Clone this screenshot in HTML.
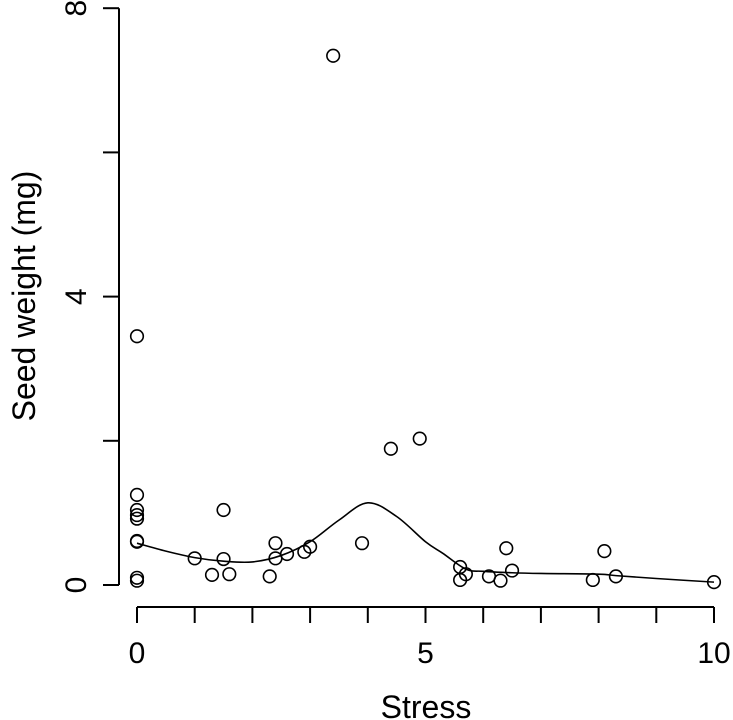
<!DOCTYPE html>
<html><head><meta charset="utf-8"><style>
body{margin:0;background:#fff}
svg{display:block;font-family:"Liberation Sans",Arial,sans-serif}
</style></head><body>
<svg id="chart" width="733" height="720" viewBox="0 0 733 720">
<g id="axes"></g>
<g id="marks"></g>
<text transform="translate(35,296) rotate(-90)" text-anchor="middle" font-size="32">Seed weight (mg)</text>
<text x="426" y="718" text-anchor="middle" font-size="32">Stress</text>
</svg>
<script>
const stressX=[0,0,0,0,0,0,0,0,0,1.5,1.0,1.5,1.3,1.6,2.4,2.4,2.3,2.6,2.9,3.0,3.9,3.4,4.4,4.9,5.6,5.6,5.7,6.1,6.3,6.4,6.5,7.9,8.1,8.3,10];
const seedW=[3.45,1.25,1.04,0.97,0.92,0.61,0.6,0.1,0.06,1.04,0.37,0.36,0.14,0.15,0.58,0.37,0.12,0.43,0.46,0.53,0.58,7.34,1.89,2.03,0.25,0.07,0.15,0.12,0.06,0.51,0.2,0.07,0.47,0.12,0.04];
const curveX=[0,0.5,1,1.5,2,2.5,3,3.5,4,4.5,5,5.3,5.7,6,6.5,7,8,8.3,9,10];
const curveY=[0.58,0.47,0.38,0.33,0.32,0.41,0.6,0.9,1.14,0.95,0.6,0.44,0.22,0.19,0.17,0.16,0.15,0.13,0.09,0.04];
const xTicks=[0,1,2,3,4,5,6,7,8,9,10];
const xLabels=[0,5,10];
const yTicks=[0,2,4,6,8];
const yLabels=[0,4,8];
const X=v=>137+57.7*v, Y=v=>585-72.1*v;
const NS="http://www.w3.org/2000/svg";
const axes=document.getElementById('axes'), marks=document.getElementById('marks');
function mk(t,a,p){const e=document.createElementNS(NS,t);for(const k in a)e.setAttribute(k,a[k]);p.appendChild(e);return e;}
let l=mk('line',{x1:X(0),x2:X(10),y1:607,y2:607,stroke:'#000','stroke-width':2},axes);


xTicks.forEach(v=>{const t=mk('line',{x1:X(v),x2:X(v),y1:607,y2:623,stroke:'#000','stroke-width':2},axes);

});
xLabels.forEach(v=>{const t=mk('text',{x:X(v),y:663,'text-anchor':'middle','font-size':30},axes);t.textContent=v;

});
l=mk('line',{x1:119,x2:119,y1:Y(0),y2:Y(8),stroke:'#000','stroke-width':2},axes);


yTicks.forEach(v=>{const t=mk('line',{x1:103,x2:119,y1:Y(v),y2:Y(v),stroke:'#000','stroke-width':2},axes);

});
yLabels.forEach(v=>{const t=mk('text',{transform:`translate(86,${Y(v)}) rotate(-90)`,'text-anchor':'middle','font-size':30},axes);t.textContent=v;

});
stressX.forEach((v,i)=>{const c=mk('circle',{cx:X(v),cy:Y(seedW[i]),r:6.3,fill:'none',stroke:'#000','stroke-width':1.6},marks);

});
const P=curveX.map((v,i)=>[X(v),Y(curveY[i])]);
let d=`M${P[0][0]},${P[0][1]}`;
for(let i=0;i<P.length-1;i++){const p0=P[Math.max(i-1,0)],p1=P[i],p2=P[i+1],p3=P[Math.min(i+2,P.length-1)];
d+=` C${p1[0]+(p2[0]-p0[0])/6},${p1[1]+(p2[1]-p0[1])/6} ${p2[0]-(p3[0]-p1[0])/6},${p2[1]-(p3[1]-p1[1])/6} ${p2[0]},${p2[1]}`;}
const cv=mk('path',{d:d,fill:'none',stroke:'#000','stroke-width':1.6},marks);


</script>
</body></html>
